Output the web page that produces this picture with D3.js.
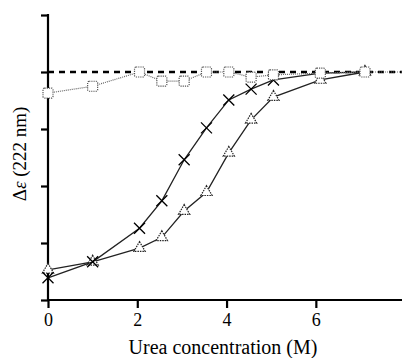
<!DOCTYPE html>
<html><head><meta charset="utf-8">
<script src="https://cdn.jsdelivr.net/npm/d3@7"></script>
<style>html,body{margin:0;padding:0;background:#fff;}svg{display:block;}</style>
</head><body>
<svg id="c" width="402" height="358"></svg>
<script>
const xTicks = [0, 2, 4, 6];
const yTicks = [0, 1, 2, 3, 4, 5];
const urea = [0, 1, 2.05, 2.55, 3.05, 3.55, 4.05, 4.55, 5.05, 6.1, 7.1];
const squares = [3.63, 3.75, 4.0, 3.84, 3.84, 4.0, 4.0, 3.91, 3.95, 3.98, 4.0];
const crosses = [0.39, 0.67, 1.26, 1.74, 2.46, 3.02, 3.51, 3.70, 3.86, 3.98, 4.0];
const triangles = [0.53, 0.67, 0.91, 1.1, 1.56, 1.89, 2.58, 3.16, 3.56, 3.86, 4.0];
const baseline = 4.0;
const xLabel = "Urea concentration (M)";

const svg = d3.select("#c");
const x = d3.scaleLinear().domain([0, 7.93]).range([48, 402]);
const y = d3.scaleLinear().domain([0, 5]).range([300, 15]);
const serif = "'Liberation Serif','Times New Roman',serif";

// axes
const xa = svg.append("g").attr("transform", "translate(0,300)")
  .call(d3.axisBottom(x).tickValues(xTicks).tickSize(8).tickPadding(5).tickFormat(d3.format("d")));
xa.select(".domain").attr("d", "M47,0H402").attr("stroke", "#000").attr("stroke-width", 2.2);
xa.selectAll(".tick line").attr("stroke-width", 2.2);
xa.selectAll(".tick text").attr("font-family", serif).attr("font-size", 18).attr("fill", "#000");

const ya = svg.append("g").attr("transform", "translate(48,0)")
  .call(d3.axisLeft(y).tickValues(yTicks).tickSize(7).tickFormat(""));
ya.select(".domain").attr("d", "M0,14V301").attr("stroke", "#000").attr("stroke-width", 2.2);
ya.selectAll(".tick line").attr("stroke-width", 2.2);

// dashed native level
svg.append("line").attr("x1", x(0)).attr("x2", 402).attr("y1", y(baseline)).attr("y2", y(baseline))
  .attr("stroke", "#000").attr("stroke-width", 2.6).attr("stroke-dasharray", "6,5");

const line = d3.line().x(d => x(d[0])).y(d => y(d[1]));
const pts = arr => urea.map((u, i) => [u, arr[i]]);

// triangles series
svg.append("path").attr("d", line(pts(triangles))).attr("fill", "none")
  .attr("stroke", "#222").attr("stroke-width", 1.3);
const tri = d3.symbol().type(d3.symbolTriangle).size(55);
svg.selectAll(".tri").data(pts(triangles)).join("path")
  .attr("transform", d => `translate(${x(d[0])},${y(d[1])})`).attr("d", tri)
  .attr("fill", "#fff").attr("stroke", "#222").attr("stroke-width", 1.2).attr("stroke-dasharray", "1.5,1");

// crosses series
svg.append("path").attr("d", line(pts(crosses))).attr("fill", "none")
  .attr("stroke", "#222").attr("stroke-width", 1.3);
svg.selectAll(".cr").data(pts(crosses).slice(0, 9)).join("path")
  .attr("transform", d => `translate(${x(d[0])},${y(d[1])})`)
  .attr("d", "M-5.5,-5.5L5.5,5.5M-5.5,5.5L5.5,-5.5").attr("stroke", "#000").attr("stroke-width", 1.3).attr("fill", "none");

// squares series
svg.append("path").attr("d", line(pts(squares)) + `L402,${y(4.0)}`).attr("fill", "none")
  .attr("stroke", "#666").attr("stroke-width", 1.2).attr("stroke-dasharray", "1,1");
svg.selectAll(".sq").data(pts(squares)).join("rect")
  .attr("x", d => x(d[0]) - 5).attr("y", d => y(d[1]) - 5).attr("width", 10).attr("height", 10)
  .attr("rx", 1.5).attr("fill", "#fff").attr("stroke", "#555").attr("stroke-width", 1.2).attr("stroke-dasharray", "1.2,1");

// labels
svg.append("text").attr("x", 223).attr("y", 354).attr("text-anchor", "middle").attr("fill", "#000")
  .attr("font-family", serif).attr("font-size", 20).text(xLabel);
const yl = svg.append("text").attr("transform", "translate(26,154) rotate(-90)").attr("text-anchor", "middle")
  .attr("fill", "#000").attr("font-family", serif).attr("font-size", 19);
yl.append("tspan").text("Δ");
yl.append("tspan").attr("font-style", "italic").text("ε");
yl.append("tspan").text(" (222 nm)");
</script>
</body></html>
